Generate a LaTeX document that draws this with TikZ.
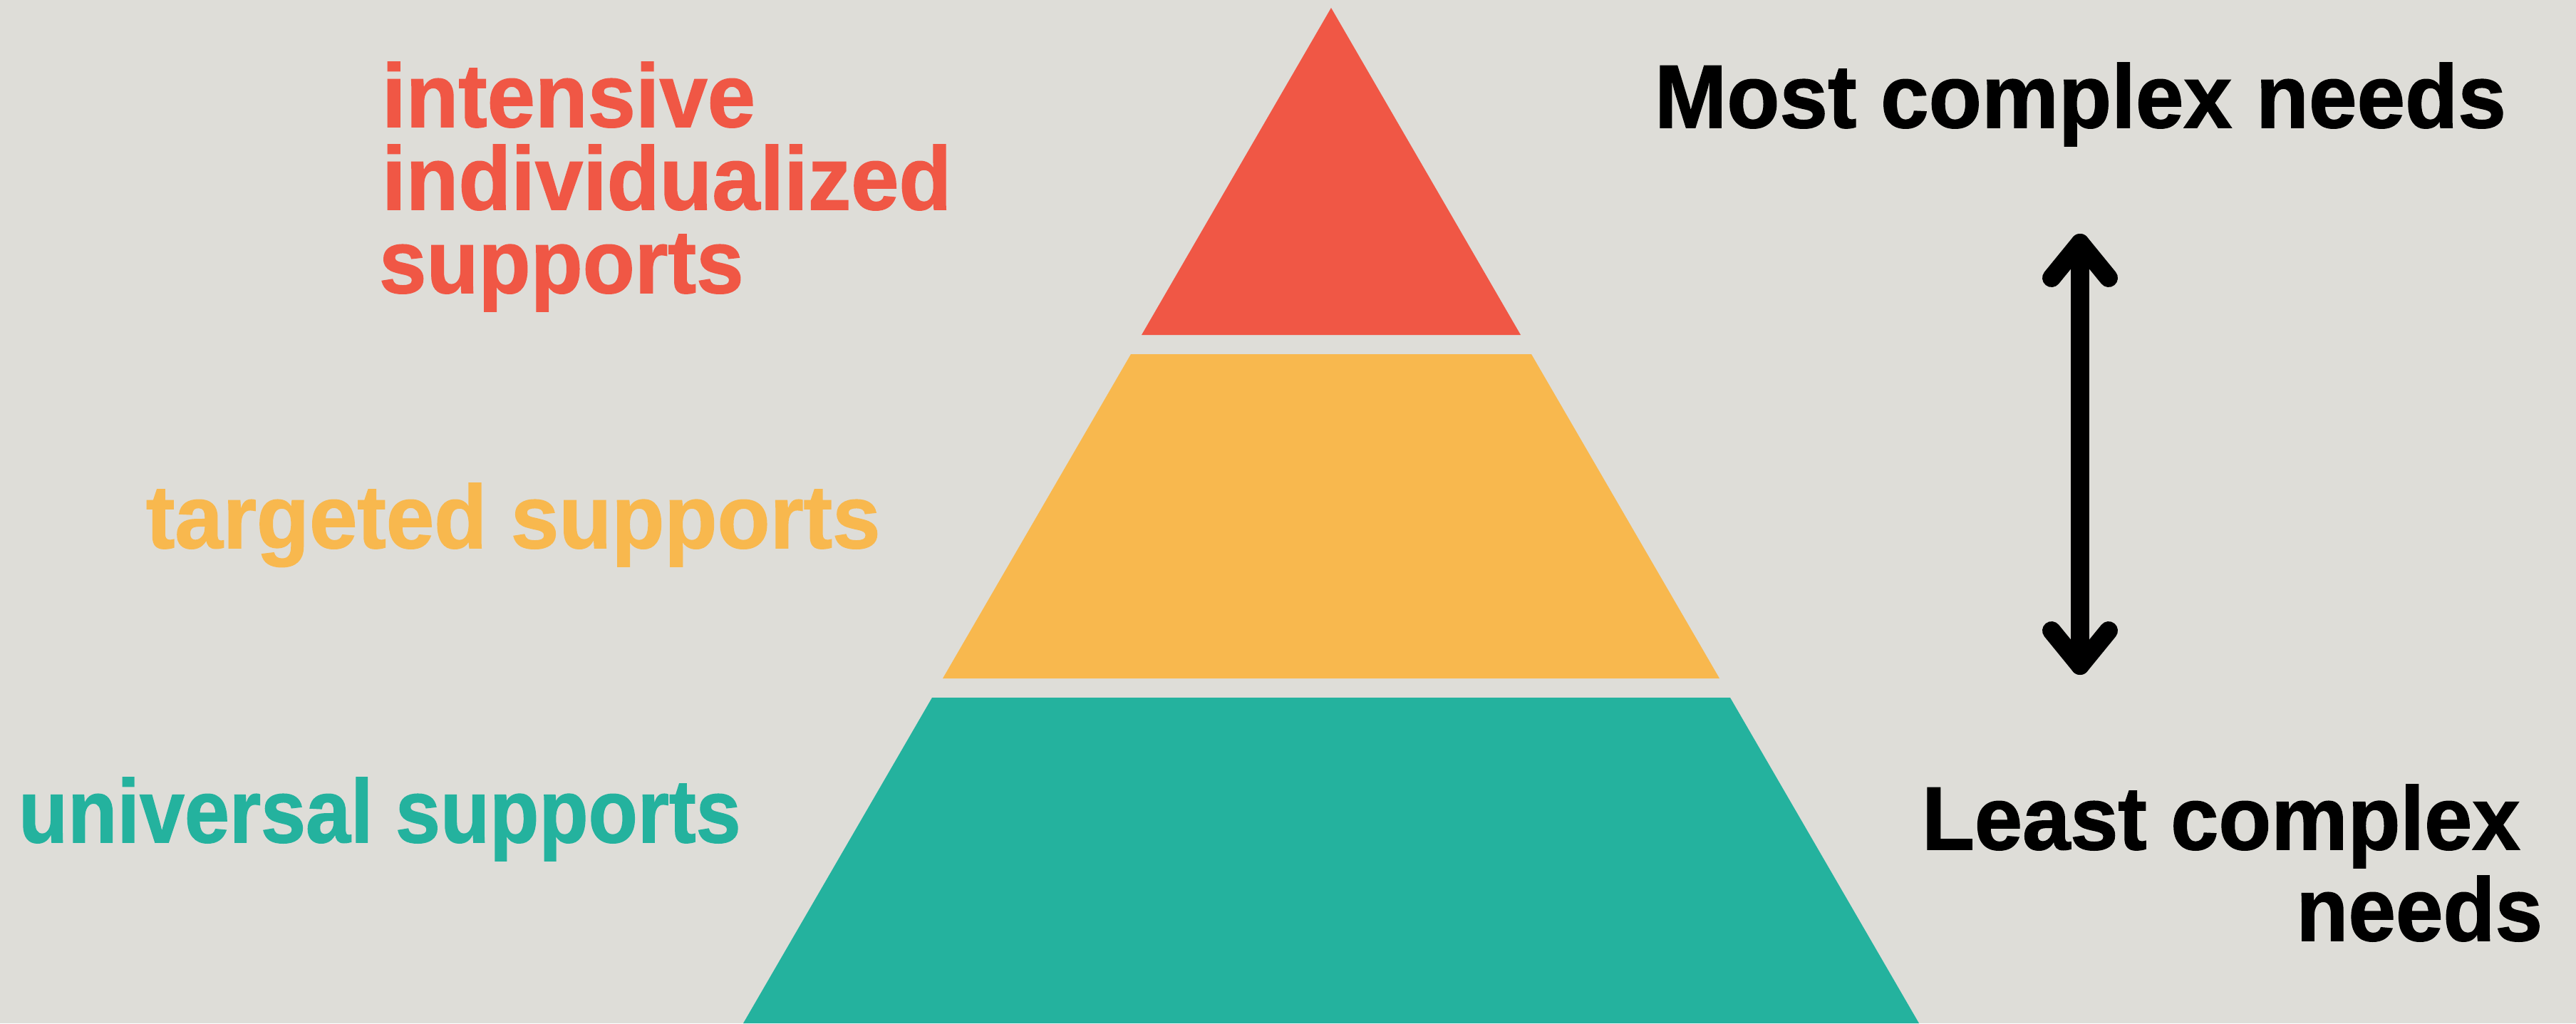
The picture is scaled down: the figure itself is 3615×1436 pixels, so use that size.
\documentclass[tikz,border=0pt]{standalone}
\usepackage{fontspec}
\newfontfamily\labfont{Liberation Sans Bold}[FakeBold=1.2]
\usetikzlibrary{calc}
\definecolor{bgc}{HTML}{DEDDD8}
\definecolor{redc}{HTML}{F05745}
\definecolor{yelc}{HTML}{F8B84E}
\definecolor{teac}{HTML}{24B29E}
\newcommand{\sx}[2]{\scalebox{#1}[1]{#2}}
\tikzset{
  lab/.style={inner sep=0pt, outer sep=0pt, anchor=base west, font=\labfont\fontsize{35.8pt}{40pt}\selectfont},
  arrowline/.style={draw=black, line width=0.26cm, line cap=round, line join=round}
}
\begin{document}
\begin{tikzpicture}[x=0.01cm,y=-0.01cm]
\useasboundingbox (0,0) rectangle (3615,1436);
\fill[bgc] (0,0) rectangle (3615,1436);
% pyramid tiers
\coordinate (apex) at (1868,11);
\coordinate (rL) at (1602,470);   \coordinate (rR) at (2134,470);
\coordinate (yTL) at (1587,497);  \coordinate (yTR) at (2149,497);
\coordinate (yBL) at (1323,952);  \coordinate (yBR) at (2413,952);
\coordinate (tTL) at (1308,979);  \coordinate (tTR) at (2428,979);
\coordinate (tBL) at (1043,1436); \coordinate (tBR) at (2693,1436);
\fill[redc] (apex) -- (rR) -- (rL) -- cycle;
\fill[yelc] (yTL) -- (yTR) -- (yBR) -- (yBL) -- cycle;
\fill[teac] (tTL) -- (tTR) -- (tBR) -- (tBL) -- cycle;
% left labels
\node[lab, text=redc] (l1) at (536,178) {\sx{0.96}{intensive}};
\node[lab, text=redc] (l2) at (536,294) {\sx{0.96}{individualized}};
\node[lab, text=redc] (l3) at (532,411) {\sx{0.95}{supports}};
\node[lab, text=yelc] (l4) at (205,769) {\sx{0.963}{targeted supports}};
\node[lab, text=teac] (l5) at (26,1182) {\sx{0.90}{universal supports}};
% right labels
\node[lab] (most) at (2322,179) {\sx{0.965}{Most complex needs}};
\node[lab] (least1) at (2697,1192) {\sx{0.96}{Least complex}};
\node[lab, anchor=base east] (least2) at (3568,1320) {\sx{0.95}{needs}};
% double arrow
\coordinate (atop) at (2919,341);
\coordinate (abot) at (2919,934);
\draw[arrowline] (atop) -- (abot);
\draw[arrowline] (atop) ++(-40,49) -- (atop) -- ++(40,49);
\draw[arrowline] (abot) ++(-40,-49) -- (abot) -- ++(40,-49);
\end{tikzpicture}
\end{document}
